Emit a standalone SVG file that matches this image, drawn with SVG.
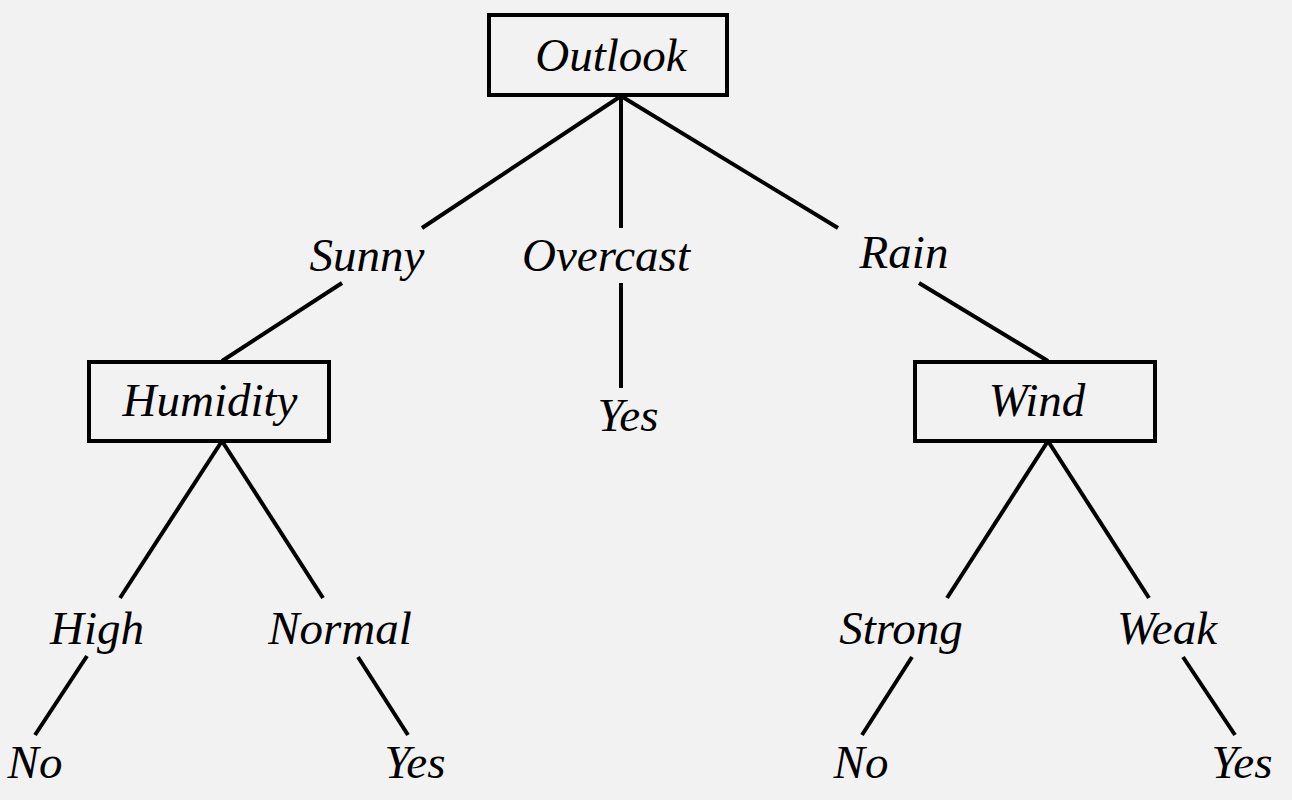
<svg xmlns="http://www.w3.org/2000/svg" width="1292" height="800" viewBox="0 0 1292 800">
<style>
.box{fill:none;stroke:#000;stroke-width:4}
.t{font-family:"Liberation Serif","Times New Roman",serif;font-style:italic;font-size:47px;fill:#000;text-anchor:middle}
.c line{stroke:#000;stroke-width:4}
</style>
<rect width="1292" height="800" fill="#f2f2f2"/>
<g class="c" id="connectors">
<line x1="621" y1="96" x2="422" y2="228"/>
<line x1="342" y1="283" x2="222" y2="361"/>
<line x1="621" y1="96" x2="621" y2="228"/>
<line x1="621" y1="283" x2="621" y2="388"/>
<line x1="621" y1="96" x2="838" y2="228"/>
<line x1="919" y1="283" x2="1048" y2="361"/>
<line x1="222" y1="441" x2="120" y2="598"/>
<line x1="87" y1="656" x2="35" y2="735"/>
<line x1="222" y1="441" x2="323" y2="598"/>
<line x1="358" y1="657" x2="408" y2="735"/>
<line x1="1048" y1="441" x2="947" y2="598"/>
<line x1="912" y1="657" x2="862" y2="735"/>
<line x1="1048" y1="441" x2="1149" y2="598"/>
<line x1="1183" y1="657" x2="1235" y2="735"/>
</g>
<g id="outlook"><rect class="box" x="489" y="15" width="238" height="80"/><text class="t" x="611" y="71">Outlook</text></g>
<g id="sunny"><text class="t" x="367" y="271">Sunny</text></g>
<g id="overcast"><text class="t" x="606" y="271">Overcast</text></g>
<g id="rain"><text class="t" x="904" y="268">Rain</text></g>
<g id="humidity"><rect class="box" x="89" y="362" width="240" height="79"/><text class="t" x="210" y="416">Humidity</text></g>
<g id="yes-mid"><text class="t" x="628" y="431">Yes</text></g>
<g id="wind"><rect class="box" x="915" y="362" width="240" height="79"/><text class="t" x="1037" y="416">Wind</text></g>
<g id="high"><text class="t" x="97" y="644">High</text></g>
<g id="normal"><text class="t" x="340" y="644">Normal</text></g>
<g id="strong"><text class="t" x="901" y="644">Strong</text></g>
<g id="weak"><text class="t" x="1167" y="644">Weak</text></g>
<g id="no-left"><text class="t" x="35" y="778">No</text></g>
<g id="yes-left"><text class="t" x="415" y="778">Yes</text></g>
<g id="no-right"><text class="t" x="861" y="778">No</text></g>
<g id="yes-right"><text class="t" x="1242" y="778">Yes</text></g>
</svg>
